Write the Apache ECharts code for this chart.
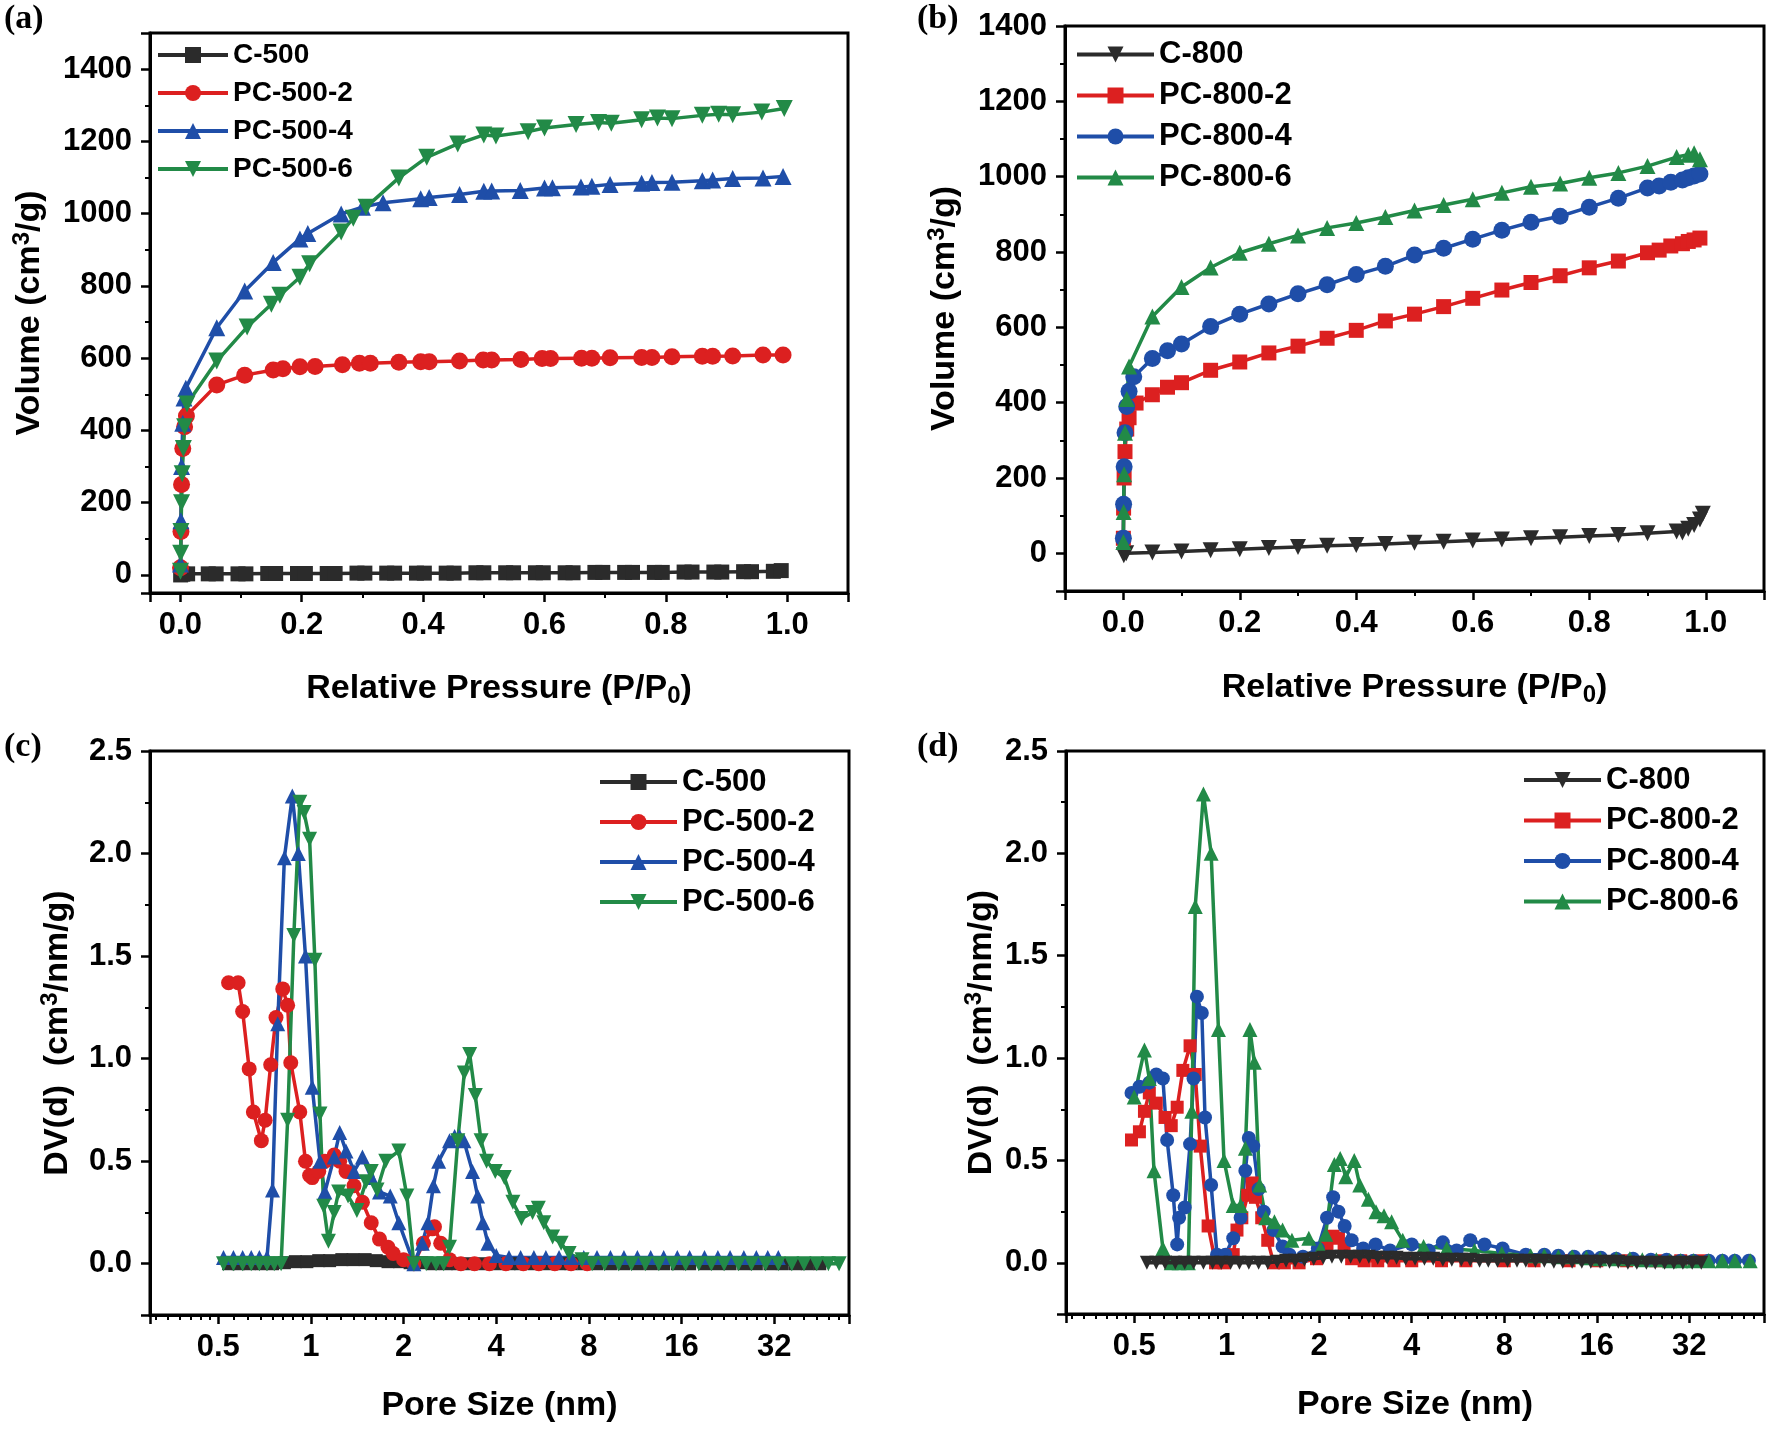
<!DOCTYPE html>
<html><head><meta charset="utf-8">
<script src="https://cdn.jsdelivr.net/npm/echarts@6/dist/echarts.min.js"></script>
<style>html,body{margin:0;padding:0;background:#fff}#c{width:1770px;height:1429px}</style>
</head><body><div id="c"></div>
<script>
// ---------- Panel (a): N2 isotherms, 500 series ----------
const a_C500_x = [0.0005,0.004,0.012,0.046,0.059,0.095,0.108,0.144,0.157,0.193,0.206,0.242,0.255,0.291,0.304,0.340,0.353,0.389,0.402,0.438,0.451,0.487,0.500,0.536,0.549,0.585,0.598,0.634,0.647,0.683,0.696,0.732,0.745,0.781,0.794,0.830,0.843,0.879,0.892,0.928,0.941,0.977,0.990];
const a_C500_y = [0,2,3,3,3,3,3,4,4,4,4,4,4,5,5,5,5,5,5,5,5,6,6,6,6,6,6,6,6,7,7,7,7,7,7,8,8,8,8,9,9,10,12];
const a_PC2_x = [0.0003,0.001,0.002,0.004,0.007,0.01,0.06,0.106,0.153,0.169,0.197,0.222,0.267,0.295,0.313,0.36,0.396,0.41,0.46,0.499,0.513,0.561,0.596,0.61,0.661,0.678,0.708,0.76,0.777,0.81,0.86,0.877,0.91,0.96,0.993];
const a_PC2_y = [20,120,250,350,410,440,526,553,567,571,576,577,582,586,586,589,590,590,592,595,595,596,599,599,600,600,601,602,602,604,605,605,606,609,609];
const a_PC4_x = [0.0003,0.001,0.002,0.004,0.006,0.009,0.06,0.106,0.153,0.197,0.21,0.265,0.3,0.334,0.396,0.41,0.46,0.5,0.513,0.56,0.6,0.613,0.66,0.678,0.708,0.76,0.777,0.81,0.86,0.877,0.91,0.96,0.993];
const a_PC4_y = [30,150,300,420,490,517,684,786,865,930,945,999,1018,1030,1041,1045,1053,1062,1063,1064,1071,1072,1074,1076,1081,1084,1086,1087,1091,1093,1097,1099,1103];
const a_PC6_x = [0.0002,0.0006,0.001,0.002,0.003,0.005,0.007,0.011,0.06,0.11,0.15,0.164,0.197,0.213,0.265,0.285,0.306,0.36,0.406,0.457,0.5,0.52,0.573,0.6,0.652,0.689,0.71,0.76,0.786,0.81,0.86,0.887,0.91,0.958,0.995];
const a_PC6_y = [10,60,120,200,280,350,410,473,592,686,749,774,824,861,949,987,1018,1099,1156,1193,1218,1215,1227,1237,1247,1252,1250,1260,1265,1263,1272,1275,1274,1281,1291];

// ---------- Panel (b): N2 isotherms, 800 series ----------
const b_C800_x = [0.001,0.005,0.05,0.1,0.15,0.2,0.25,0.3,0.35,0.4,0.45,0.5,0.55,0.6,0.65,0.7,0.75,0.8,0.85,0.9,0.95,0.96,0.97,0.98,0.99,0.995];
const b_C800_y = [-5,0,2,5,8,11,14,17,20,22,25,28,31,34,37,40,43,46,49,53,58,55,65,75,90,105];
const b_PC2_x = [0.0002,0.0006,0.0015,0.003,0.006,0.01,0.022,0.05,0.076,0.1,0.15,0.2,0.25,0.3,0.35,0.4,0.45,0.5,0.55,0.6,0.65,0.7,0.75,0.8,0.85,0.9,0.92,0.94,0.96,0.97,0.98,0.99];
const b_PC2_y = [40,120,200,270,330,360,399,421,441,453,486,508,532,550,571,592,617,635,655,677,699,719,737,758,776,798,805,816,822,828,832,837];
const b_PC4_x = [0.0002,0.0006,0.0015,0.003,0.006,0.01,0.018,0.05,0.076,0.1,0.15,0.2,0.25,0.3,0.35,0.4,0.45,0.5,0.55,0.6,0.65,0.7,0.75,0.8,0.85,0.9,0.92,0.94,0.96,0.97,0.98,0.99];
const b_PC4_y = [40,130,230,320,390,430,469,517,538,556,602,635,662,689,713,740,762,792,810,834,858,879,895,919,943,970,975,985,991,997,1002,1007];
const b_PC6_x = [0.0002,0.0006,0.0015,0.003,0.006,0.01,0.05,0.1,0.15,0.2,0.25,0.3,0.35,0.4,0.45,0.5,0.55,0.6,0.65,0.7,0.75,0.8,0.85,0.9,0.95,0.97,0.98,0.99];
const b_PC6_y = [30,110,210,320,410,496,629,707,759,798,822,844,864,877,893,910,925,940,957,973,982,997,1010,1028,1052,1058,1062,1046];

// ---------- Panel (c): pore size distribution, 500 series ----------
const c_C500_x = [0.54,0.58,0.63,0.69,0.75,0.82,0.89,0.97,1.06,1.15,1.26,1.37,1.5,1.63,1.78,1.94,2.1,2.3,2.5,2.75,3.0,3.3,3.6,4.0,4.4,4.8,5.3,5.8,6.4,7.0,7.7,8.5,9.4,10.4,11.5,12.7,14,15.5,17,19,21,23,25.5,28,31,34,37.5,41,45];
const c_C500_y = [0,0,0,0,0,0.005,0.01,0.01,0.015,0.015,0.02,0.02,0.02,0.015,0.01,0.01,0.005,0.005,0,0,0,0,0,0,0,0,0,0,0,0,0,0,0,0,0,0,0,0,0,0,0,0,0,0,0,0,0,0,0];
const c_PC2_x = [0.54,0.58,0.6,0.63,0.65,0.69,0.71,0.74,0.77,0.81,0.84,0.86,0.92,0.96,0.99,1.01,1.06,1.11,1.19,1.24,1.3,1.38,1.47,1.57,1.67,1.78,1.85,2.0,2.16,2.32,2.48,2.52,2.64,2.82,3.07,3.4,3.8,4.3,4.9,5.5,6.2,7.0,7.9];
const c_PC2_y = [1.37,1.37,1.23,0.95,0.74,0.60,0.70,0.97,1.2,1.34,1.26,0.98,0.74,0.5,0.43,0.42,0.45,0.5,0.53,0.5,0.45,0.38,0.3,0.2,0.12,0.08,0.05,0.02,0.0,0.1,0.17,0.18,0.1,0.02,0.0,0,0,0,0,0,0,0,0];
const c_PC4_x = [0.52,0.56,0.6,0.64,0.68,0.72,0.75,0.78,0.82,0.87,0.91,0.96,1.01,1.07,1.11,1.19,1.24,1.3,1.38,1.47,1.57,1.67,1.81,1.93,2.16,2.3,2.4,2.5,2.6,2.82,2.93,3.04,3.14,3.35,3.48,3.62,3.76,4.0,4.4,4.8,5.3,5.8,6.4,7.0,7.7,8.5,9.4,10.4,11.5,12.7,14,15.5,17,19,21,23,25.5,28,30.5,33];
const c_PC4_y = [0.03,0.03,0.03,0.03,0.03,0.03,0.36,1.17,1.98,2.28,2.0,1.5,0.86,0.5,0.35,0.52,0.64,0.55,0.45,0.52,0.42,0.35,0.33,0.2,0.0,0.1,0.2,0.38,0.5,0.6,0.62,0.62,0.6,0.45,0.33,0.2,0.1,0.04,0.03,0.03,0.03,0.03,0.03,0.03,0.03,0.03,0.03,0.03,0.03,0.03,0.03,0.03,0.03,0.03,0.03,0.03,0.03,0.03,0.03,0.03];
const c_PC6_x = [0.52,0.56,0.6,0.64,0.68,0.72,0.76,0.8,0.84,0.88,0.92,0.95,0.99,1.03,1.07,1.1,1.14,1.19,1.23,1.32,1.41,1.51,1.57,1.64,1.75,1.93,2.05,2.16,2.37,2.55,2.7,2.82,3.0,3.15,3.28,3.42,3.57,3.72,3.97,4.25,4.53,4.83,5.25,5.48,5.71,6.1,6.5,6.9,7.6,8.2,9,10,11,12.2,13.5,15,16.5,18.2,20,22,24.5,27,30,33,36.5,40,44,48,52];
const c_PC6_y = [0,0,0,0,0,0,0,0,0.7,1.6,2.25,2.2,2.07,1.48,0.73,0.28,0.11,0.25,0.35,0.33,0.26,0.4,0.45,0.36,0.5,0.55,0.33,0.0,0.0,0.0,0.0,0.08,0.6,0.93,1.02,0.82,0.6,0.5,0.45,0.42,0.3,0.22,0.25,0.27,0.2,0.13,0.1,0.05,0.02,0.0,0,0,0,0,0,0,0,0,0,0,0,0,0,0,0,0,0,0,0];

// ---------- Panel (d): pore size distribution, 800 series ----------
const d_C800_x = [0.55,0.59,0.63,0.68,0.73,0.78,0.84,0.9,0.96,1.03,1.1,1.18,1.27,1.36,1.46,1.56,1.67,1.79,1.92,2.06,2.2,2.36,2.53,2.71,2.9,3.1,3.33,3.57,3.82,4.1,4.4,4.7,5.05,5.4,5.8,6.2,6.65,7.1,7.6,8.2,8.8,9.4,10.1,10.8,11.6,12.4,13.3,14.3,15.3,16.4,17.6,18.8,20.2,21.6,23.2,24.8,26.6,28.5,30.5,32.7,35];
const d_C800_y = [0,0,0,0,0,0,0,0,0,0,0,0,0,0,0.005,0.01,0.01,0.015,0.02,0.025,0.03,0.03,0.03,0.03,0.03,0.025,0.025,0.025,0.02,0.02,0.02,0.02,0.015,0.015,0.015,0.015,0.01,0.01,0.01,0.01,0.01,0.01,0.01,0.01,0.005,0.005,0.005,0.005,0.005,0.005,0.005,0.005,0,0,0,0,0,0,0,0,0];
const d_PC2_x = [0.49,0.52,0.54,0.56,0.59,0.63,0.66,0.69,0.72,0.76,0.79,0.82,0.87,0.92,0.98,1.05,1.08,1.12,1.17,1.21,1.24,1.3,1.36,1.42,1.54,1.72,1.96,2.12,2.22,2.31,2.41,2.55,2.8,3.1,3.5,4.0,5.0,6.0,8.0,10,13,16,20,25,30,35];
const d_PC2_y = [0.6,0.64,0.74,0.83,0.78,0.71,0.67,0.76,0.94,1.06,0.92,0.57,0.18,0.0,0.0,0.04,0.16,0.22,0.33,0.39,0.32,0.22,0.11,0.0,0.0,0.0,0.02,0.08,0.13,0.12,0.08,0.02,0.01,0.01,0.01,0.01,0.01,0.01,0.01,0.01,0.01,0.01,0.01,0.01,0.01,0.01];
const d_PC4_x = [0.49,0.52,0.56,0.59,0.62,0.64,0.67,0.69,0.7,0.73,0.76,0.78,0.8,0.83,0.85,0.89,0.93,0.99,1.05,1.11,1.15,1.18,1.22,1.27,1.32,1.42,1.52,1.6,1.77,1.98,2.12,2.22,2.31,2.42,2.55,2.78,3.05,3.4,4.0,4.54,5.05,5.6,6.2,6.9,7.9,9.4,10.8,12,13.5,15,16.5,18.5,21,24,27,30,33,37,41,45,50];
const d_PC4_y = [0.83,0.86,0.88,0.92,0.9,0.6,0.33,0.09,0.22,0.27,0.58,0.9,1.3,1.22,0.71,0.38,0.04,0.04,0.12,0.22,0.45,0.61,0.57,0.36,0.25,0.16,0.08,0.04,0.03,0.07,0.22,0.32,0.25,0.18,0.11,0.07,0.09,0.06,0.09,0.06,0.1,0.06,0.11,0.09,0.07,0.04,0.04,0.035,0.03,0.03,0.025,0.02,0.02,0.015,0.015,0.01,0.01,0.01,0.01,0.01,0.01];
const d_PC6_x = [0.5,0.54,0.56,0.58,0.62,0.66,0.7,0.75,0.77,0.79,0.84,0.89,0.94,0.98,1.05,1.11,1.15,1.19,1.23,1.28,1.34,1.43,1.52,1.63,1.85,2.02,2.1,2.24,2.34,2.44,2.6,2.71,2.89,3.06,3.25,3.44,3.74,4.37,5.2,6.4,7.85,9.75,10.8,12,13.3,14.8,16.4,18.5,20.5,22.5,25,27.6,30,33,37,41,45,50.5];
const d_PC6_y = [0.81,1.04,0.9,0.45,0.07,0.0,0.0,0.0,0.74,1.74,2.29,2.0,1.14,0.5,0.28,0.28,0.56,1.14,0.98,0.38,0.22,0.2,0.16,0.11,0.12,0.07,0.14,0.48,0.51,0.42,0.5,0.38,0.31,0.25,0.23,0.2,0.11,0.08,0.07,0.06,0.045,0.035,0.035,0.03,0.03,0.025,0.02,0.02,0.02,0.015,0.015,0.01,0.01,0.01,0.01,0.01,0.01,0.01];

// ---------- labels ----------
const names500 = ['C-500','PC-500-2','PC-500-4','PC-500-6'];
const names800 = ['C-800','PC-800-2','PC-800-4','PC-800-6'];
const panelTags = ['(a)','(b)','(c)','(d)'];
const isoXTitle = 'Relative Pressure (P/P{sub|0})';
const isoYTitle = 'Volume (cm{sup|3}/g)';
const psdXTitle = 'Pore Size (nm)';
const psdYTitle = 'DV(d)  (cm{sup|3}/nm/g)';

const FONT = '"Liberation Sans", Arial, sans-serif';
const K = '#2b2b2b', R = '#dc2020', B = '#1f4ea8', G = '#228a47';
const LW = 3.5;

function pts(xs, ys) { return xs.map((x, i) => [x, ys[i]]); }
function ser(name, xs, ys, color, symbol, rot, gi, size, z) {
  return { type: 'line', name, xAxisIndex: gi, yAxisIndex: gi, data: pts(xs, ys),
    symbol, symbolRotate: rot, symbolSize: size, showAllSymbol: true, animation: false,
    lineStyle: { color, width: LW }, itemStyle: { color }, z: z || 2, emphasis: { disabled: true } };
}

const axisLine = { show: true, onZero: false, lineStyle: { color: '#000', width: 3 } };
const axisTick = { show: true, inside: false, length: 9, lineStyle: { color: '#000', width: 2.5 } };
function minorTick(n) { return { show: true, splitNumber: n, length: 5, lineStyle: { color: '#000', width: 2 } }; }
function lbl(fmt, extra) {
  return Object.assign({ color: '#000', fontFamily: FONT, fontWeight: 'bold', fontSize: 31, margin: 17, formatter: fmt }, extra || {});
}
function nameStyle(size) {
  return { color: '#000', fontFamily: FONT, fontWeight: 'bold', fontSize: size,
    rich: {
      sup: { fontSize: Math.round(size * 0.7), fontFamily: FONT, fontWeight: 'bold', color: '#000', verticalAlign: 'top', padding: [0, 0, 16, 0] },
      sub: { fontSize: Math.round(size * 0.72), fontFamily: FONT, fontWeight: 'bold', color: '#000', verticalAlign: 'bottom', padding: [14, 0, 0, 0] }
    } };
}
const fmt1 = v => v.toFixed(1);
const fmtLog = v => (v < 1 ? String(Math.round(v * 10) / 10) : String(Math.round(v)));

function linX(gi, min, max, title, gap) {
  return { type: 'value', gridIndex: gi, min, max, splitNumber: 5, axisLine, axisTick, minorTick: minorTick(2),
    splitLine: { show: false }, axisLabel: lbl(fmt1, { showMinLabel: false, showMaxLabel: false }),
    name: title, nameLocation: 'middle', nameGap: gap, nameTextStyle: nameStyle(34) };
}
function logX(gi, title, gap) {
  return { type: 'log', logBase: 2, gridIndex: gi, min: 0.3, max: 56, axisLine, axisTick, minorTick: minorTick(8),
    splitLine: { show: false }, axisLabel: lbl(fmtLog, { showMinLabel: false, showMaxLabel: false }),
    name: title, nameLocation: 'middle', nameGap: gap, nameTextStyle: nameStyle(34) };
}
function linY(gi, min, max, split, fmt, title, gap, showMax) {
  return { type: 'value', gridIndex: gi, min, max, splitNumber: split, axisLine, axisTick, minorTick: minorTick(2),
    splitLine: { show: false }, axisLabel: lbl(fmt, { showMinLabel: false, showMaxLabel: showMax, margin: 18 }),
    name: title, nameLocation: 'middle', nameGap: gap, nameRotate: 90, nameTextStyle: nameStyle(34) };
}
function legend(names, left, top, iw, fs, lh, gap) {
  return { data: names, orient: 'vertical', left, top, itemWidth: iw, itemHeight: 20, itemGap: gap, padding: 0,
    selectedMode: false, lineStyle: { width: 4 },
    textStyle: { color: '#000', fontFamily: FONT, fontWeight: 'bold', fontSize: fs, lineHeight: lh } };
}
const gridBox = { show: true, borderColor: '#000', borderWidth: 3, backgroundColor: 'transparent', containLabel: false };

const option = {
  backgroundColor: '#fff',
  animation: false,
  grid: [
    Object.assign({ left: 150, top: 33, width: 698, height: 560 }, gridBox),
    Object.assign({ left: 1065, top: 26, width: 699, height: 565 }, gridBox),
    Object.assign({ left: 150, top: 751, width: 699, height: 564 }, gridBox),
    Object.assign({ left: 1066, top: 751, width: 698, height: 563 }, gridBox)
  ],
  xAxis: [
    linX(0, -0.05, 1.1, isoXTitle, 77),
    linX(1, -0.1, 1.1, isoXTitle, 78),
    logX(2, psdXTitle, 74),
    logX(3, psdXTitle, 74)
  ],
  yAxis: [
    linY(0, -50, 1500, 7, v => String(v), isoYTitle, 100, false),
    linY(1, -100, 1400, 7, v => String(v), isoYTitle, 100, true),
    linY(2, -0.25, 2.5, 5, fmt1, psdYTitle, 72, true),
    linY(3, -0.25, 2.5, 5, fmt1, psdYTitle, 64, true)
  ],
  legend: [
    legend(names500, 156, 40, 70, 28, 30, 8),
    legend(names800, 1075, 39, 77, 31, 31, 10),
    legend(names500, 598, 766, 77, 31, 32, 8),
    legend(names800, 1522, 764, 77, 31, 32, 8.5)
  ],
  graphic: panelTags.map((t, i) => ({
    type: 'text', left: i % 2 === 0 ? 4 : 917, top: i < 2 ? 2 : 730,
    style: { text: t, font: 'bold 34px "Liberation Serif", "Times New Roman", serif', fill: '#000' }
  })),
  series: [
    ser(names500[0], a_C500_x, a_C500_y, K, 'rect', 0, 0, 15),
    ser(names500[1], a_PC2_x, a_PC2_y, R, 'circle', 0, 0, 17),
    ser(names500[2], a_PC4_x, a_PC4_y, B, 'triangle', 0, 0, 17),
    ser(names500[3], a_PC6_x, a_PC6_y, G, 'triangle', 180, 0, 17),

    ser(names800[0], b_C800_x, b_C800_y, K, 'triangle', 180, 1, 16),
    ser(names800[1], b_PC2_x, b_PC2_y, R, 'rect', 0, 1, 15),
    ser(names800[2], b_PC4_x, b_PC4_y, B, 'circle', 0, 1, 17),
    ser(names800[3], b_PC6_x, b_PC6_y, G, 'triangle', 0, 1, 16),

    ser(names500[0], c_C500_x, c_C500_y, K, 'rect', 0, 2, 13),
    ser(names500[1], c_PC2_x, c_PC2_y, R, 'circle', 0, 2, 15),
    ser(names500[2], c_PC4_x, c_PC4_y, B, 'triangle', 0, 2, 15),
    ser(names500[3], c_PC6_x, c_PC6_y, G, 'triangle', 180, 2, 15),

    ser(names800[1], d_PC2_x, d_PC2_y, R, 'rect', 0, 3, 13),
    ser(names800[2], d_PC4_x, d_PC4_y, B, 'circle', 0, 3, 14),
    ser(names800[3], d_PC6_x, d_PC6_y, G, 'triangle', 0, 3, 15),
    ser(names800[0], d_C800_x, d_C800_y, K, 'triangle', 180, 3, 14, 3)
  ]
};

const chart = echarts.init(document.getElementById('c'), null, { renderer: 'canvas', width: 1770, height: 1429 });
chart.setOption(option);
</script></body></html>
